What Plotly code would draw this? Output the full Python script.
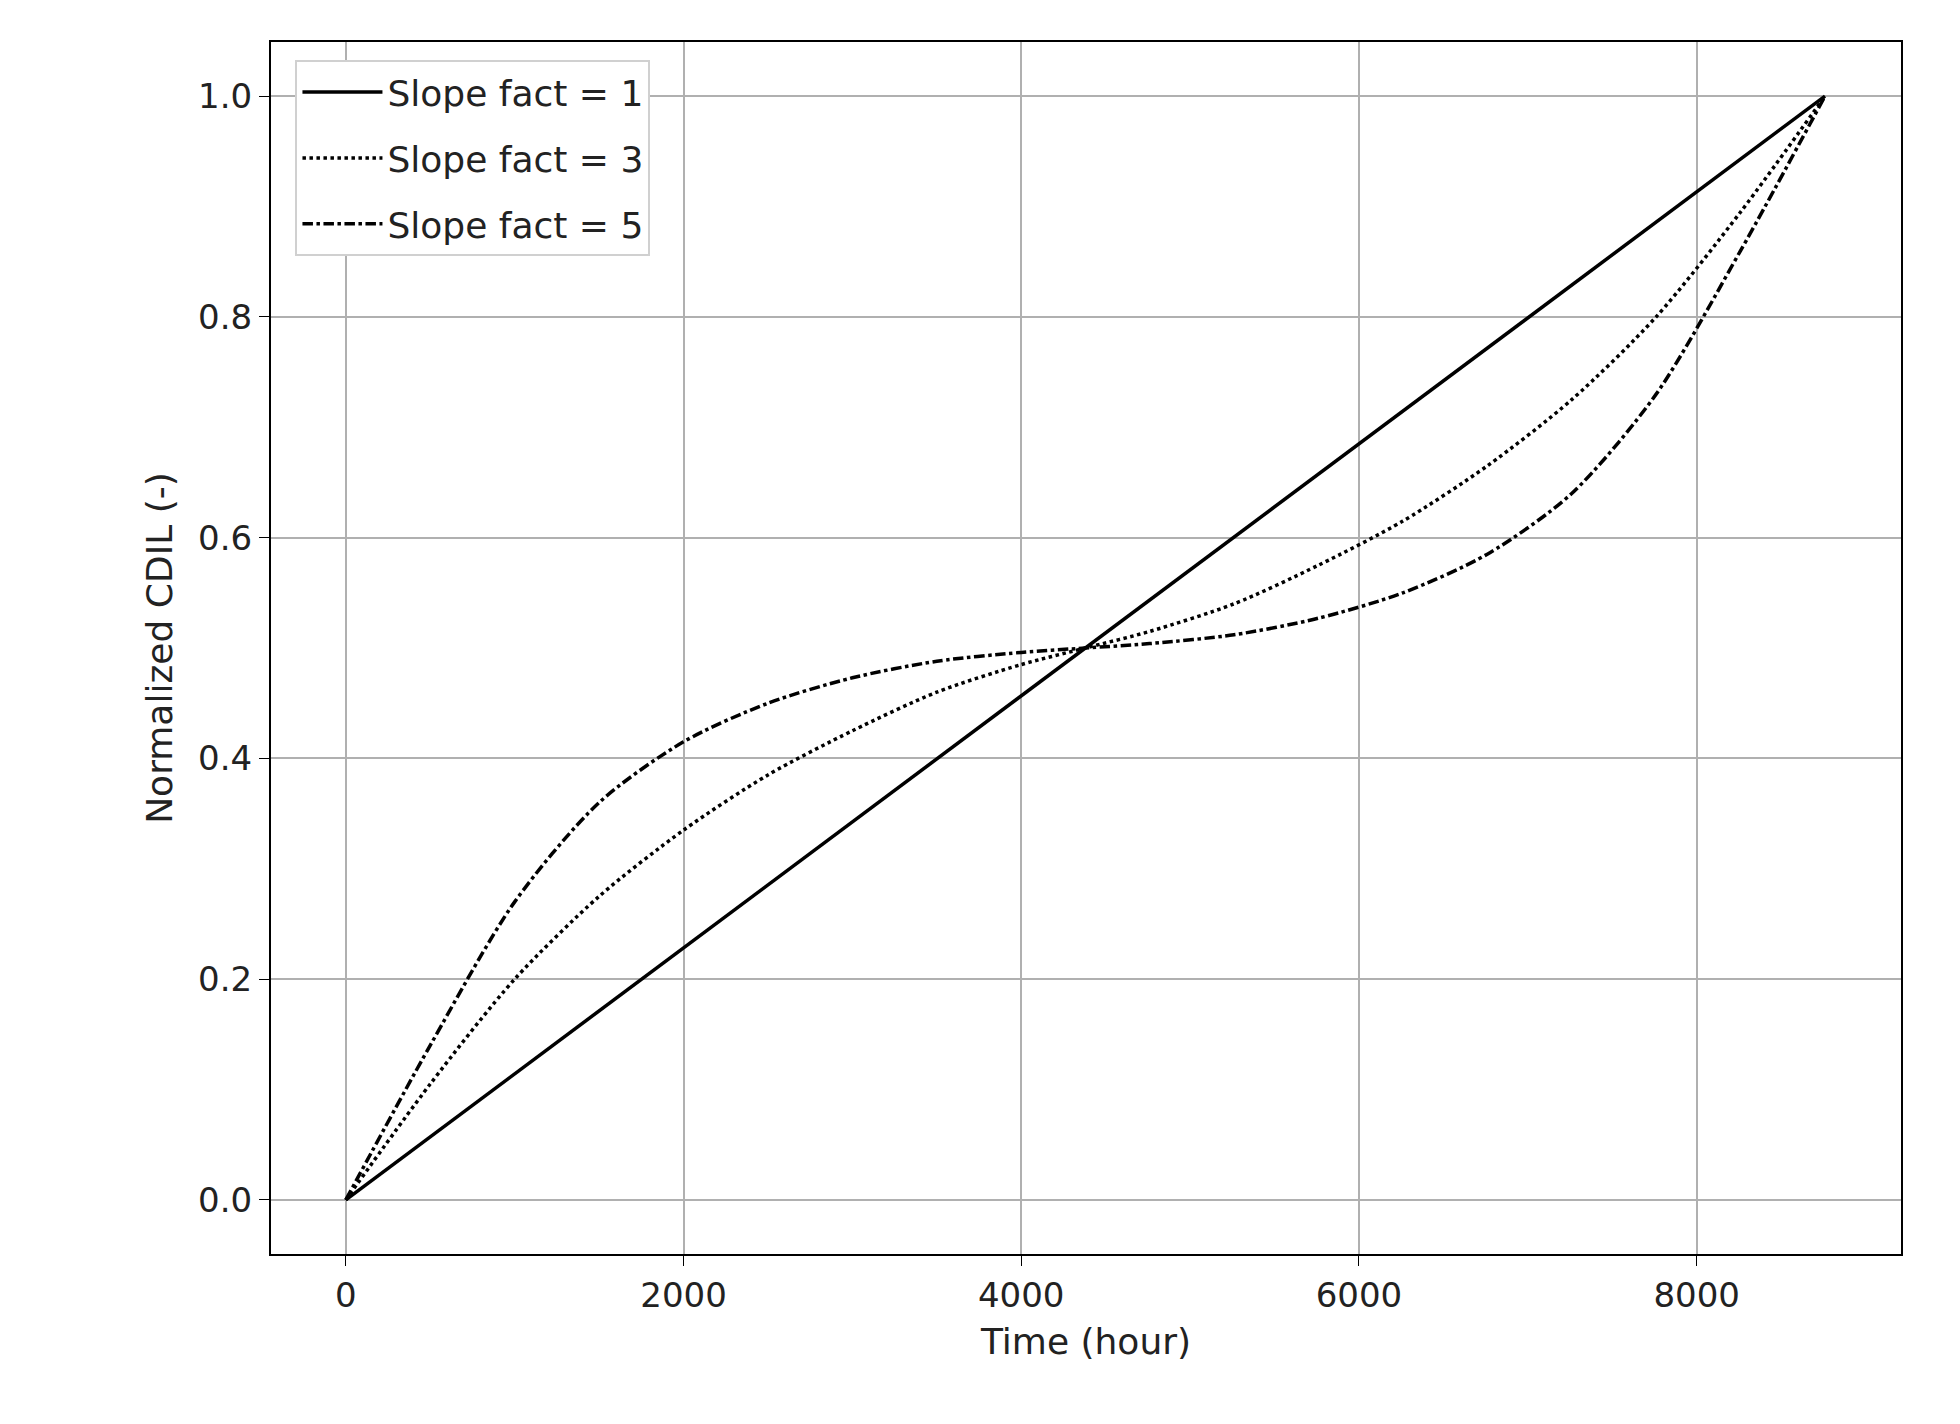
import plotly.graph_objects as go

# time (hour) and normalized CDIL
x_lin = [0, 8760]
y_lin = [0.0, 1.0]

x_s3 = [0, 500, 1000, 1500, 2000, 2500, 3000, 3500, 4000, 4380, 4760, 5260, 5760, 6260, 6760, 7260, 7760, 8260, 8760]
y_s3 = [0.0, 0.105, 0.2, 0.275, 0.335, 0.385, 0.425, 0.46, 0.485, 0.5, 0.515, 0.54, 0.575, 0.615, 0.665, 0.725, 0.8, 0.895, 1.0]

x_s5 = [0, 500, 1000, 1500, 2000, 2500, 3000, 3500, 4000, 4380, 4760, 5260, 5760, 6260, 6760, 7260, 7760, 8260, 8760]
y_s5 = [0.0, 0.14, 0.27, 0.36, 0.415, 0.45, 0.473, 0.488, 0.496, 0.5, 0.504, 0.512, 0.527, 0.55, 0.585, 0.64, 0.73, 0.86, 1.0]

fig = go.Figure()
fig.add_trace(go.Scatter(x=x_lin, y=y_lin, mode='lines', name='Slope fact = 1', legendgroup='a',
                         line=dict(color='black', width=3.5, dash='solid')))
fig.add_trace(go.Scatter(x=x_s3, y=y_s3, mode='lines', name='Slope fact = 3', legendgroup='b',
                         line=dict(color='black', width=3.5, dash='dot', shape='spline', smoothing=0.8)))
fig.add_trace(go.Scatter(x=x_s5, y=y_s5, mode='lines', name='Slope fact = 5', legendgroup='c',
                         line=dict(color='black', width=3.5, dash='dashdot', shape='spline', smoothing=0.8)))

axis_style = dict(showgrid=True, gridcolor='#b0b0b0', gridwidth=2, showline=True, mirror=True,
                  linecolor='black', linewidth=2, ticks='outside', ticklen=10, tickcolor='black',
                  zeroline=False, tickfont=dict(size=34, color='#222'))

fig.update_layout(
    width=1960, height=1424,
    paper_bgcolor='white', plot_bgcolor='white',
    font=dict(family='DejaVu Sans', color='#222'),
    margin=dict(l=263, r=67, t=34, b=178),
    showlegend=True,
    legend=dict(x=0.015, y=0.985, xanchor='left', yanchor='top', bgcolor='white',
                bordercolor='#d0d0d0', borderwidth=2, font=dict(size=36),
                itemwidth=80, tracegroupgap=16),
    xaxis=dict(axis_style, range=[-443, 9210], tickvals=[0, 2000, 4000, 6000, 8000],
               title=dict(text='Time (hour)', font=dict(size=36))),
    yaxis=dict(axis_style, range=[-0.049, 1.049], tickvals=[0, 0.2, 0.4, 0.6, 0.8, 1.0],
               tickformat='.1f', title=dict(text='Normalized CDIL (-)', font=dict(size=36))),
)

fig.write_html('out.html')
